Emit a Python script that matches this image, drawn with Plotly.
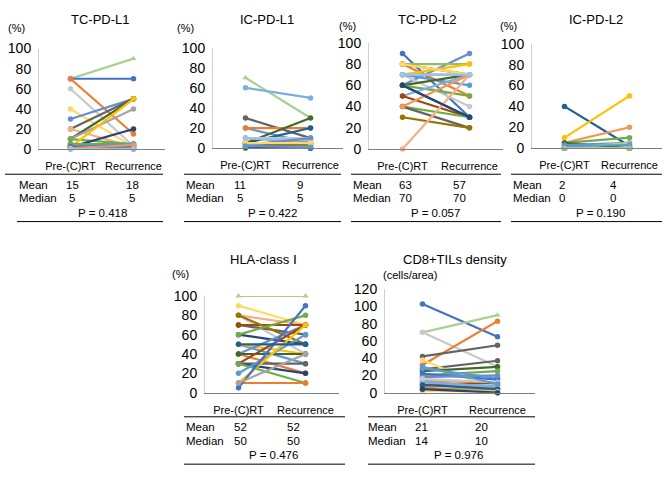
import plotly.graph_objects as go

W, H = 669, 477

categories = ["Pre-(C)RT", "Recurrence"]

# ---- data ----
tc_pdl1_pre = [70, 70, 70, 60, 40, 30, 20, 20, 10, 10, 10, 2, 5, 3, 0, 2, 1, 2, 0, 5, 3, 2, 1, 0]
tc_pdl1_rec = [90, 70, 15, 3, 2, 50, 50, 2, 50, 40, 5, 20, 0, 3, 5, 50, 1, 0, 2, 5, 5, 3, 4, 0]

ic_pdl1_pre = [70, 60, 30, 20, 20, 5, 5, 10, 10, 5, 0, 3, 2, 5, 10, 0, 3, 5, 1, 2]
ic_pdl1_rec = [30, 50, 10, 5, 20, 20, 30, 10, 5, 0, 5, 5, 2, 3, 8, 2, 10, 5, 0, 1]

tc_pdl2_pre = [90, 60, 80, 80, 80, 70, 70, 70, 60, 60, 60, 50, 50, 40, 40, 30, 0, 40, 70, 60, 80, 70]
tc_pdl2_rec = [30, 90, 80, 50, 70, 80, 40, 60, 70, 30, 50, 70, 30, 30, 20, 20, 70, 70, 70, 30, 70, 70]

ic_pdl2_pre = [40, 10, 5, 5, 5, 3, 0, 0, 2, 0, 0, 0, 0, 0, 0, 0, 0, 0, 0, 0]
ic_pdl2_rec = [2, 50, 20, 10, 0, 5, 5, 0, 3, 0, 0, 0, 0, 0, 0, 0, 0, 0, 0, 0]

hla_pre = [100, 90, 80, 80, 70, 70, 80, 60, 60, 50, 50, 40, 40, 40, 30, 30, 30, 30, 20, 10, 10, 5, 10, 50]
hla_rec = [100, 70, 70, 40, 60, 70, 50, 50, 80, 30, 40, 70, 20, 40, 30, 70, 20, 10, 60, 70, 10, 90, 40, 50]

cd8_pre = [103, 70, 70, 32, 42, 27, 38, 25, 20, 28, 22, 15, 12, 10, 8, 5, 18, 14, 3, 6, 12, 16, 9, 2, 4, 30]
cd8_rec = [65, 90, 30, 83, 55, 37, 2, 30, 25, 17, 15, 10, 5, 8, 12, 3, 20, 5, 2, 0, 7, 12, 4, 1, 0, 10]

titles = ["TC-PD-L1", "IC-PD-L1", "TC-PD-L2", "IC-PD-L2", "HLA-class Ⅰ", "CD8+TILs density"]
units = ["(%)", "(%)", "(%)", "(%)", "(%)", "(cells/area)"]
mean_pre = ["15", "11", "63", "2", "52", "21"]
mean_rec = ["18", "9", "57", "4", "52", "20"]
median_pre = ["5", "5", "70", "0", "50", "14"]
median_rec = ["5", "5", "70", "0", "50", "10"]
p_values = ["P = 0.418", "P = 0.422", "P = 0.057", "P = 0.190", "P = 0.476", "P = 0.976"]
y_max = [100, 100, 100, 100, 100, 120]

# ---- styles ----
PAL = {
    "B": "#4472C4", "O": "#ED7D31", "G": "#A5A5A5", "Y": "#FFC000", "LB": "#5B9BD5",
    "GR": "#70AD47", "DB": "#264478", "BR": "#9E480E", "DG": "#636363", "DY": "#997300",
    "DLB": "#255E91", "DGR": "#43682B", "B2": "#698ED0", "O2": "#F1975A", "G2": "#C9C9C9",
    "Y2": "#FFD966", "LB2": "#7CAFDD", "GR2": "#8CC168", "LGR": "#A9D18E", "LO": "#F4B183",
    "LLB": "#9DC3E6",
}
tc_pdl1_col = ["LGR", "B", "O", "G2", "Y2", "B2", "DG", "LO", "DGR", "G", "GR", "DB", "BR",
               "LB", "LLB", "Y", "DY", "O", "LB2", "GR", "LB", "DLB", "O2", "LLB"]
ic_pdl1_col = ["LGR", "LB2", "DG", "LB", "O", "DLB", "DGR", "G2", "G", "Y", "O2", "DY",
               "B", "BR", "LLB", "GR", "B2", "Y2", "DB", "LB"]
tc_pdl2_col = ["B", "B2", "GR2", "O", "DY", "Y", "G2", "LB", "DGR", "DLB", "GR", "LB2",
               "BR", "GR", "DG", "DY", "LO", "O2", "G", "DB", "Y2", "LLB"]
ic_pdl2_col = ["DLB", "Y", "O2", "GR", "DGR", "B2", "LGR", "Y2", "LB", "G", "O", "B",
               "DG", "BR", "GR2", "LLB", "G2", "DY", "LB2", "LGR"]
hla_col = ["LGR", "Y2", "LO", "G2", "DG", "BR", "DY", "DB", "GR", "LB", "Y", "B2", "O",
           "DGR", "DG", "BR", "DB", "GR", "LB", "Y", "O", "B", "G", "DLB"]
cd8_col = ["B", "LGR", "G2", "O", "DG", "DG", "Y2", "DGR", "GR", "LB", "B", "O2", "DY",
           "LLB", "BR", "GR2", "B2", "G", "Y", "O", "LB2", "G2", "DLB", "Y2", "DB", "LB"]

panels_pre = [tc_pdl1_pre, ic_pdl1_pre, tc_pdl2_pre, ic_pdl2_pre, hla_pre, cd8_pre]
panels_rec = [tc_pdl1_rec, ic_pdl1_rec, tc_pdl2_rec, ic_pdl2_rec, hla_rec, cd8_rec]
panels_col = [tc_pdl1_col, ic_pdl1_col, tc_pdl2_col, ic_pdl2_col, hla_col, cd8_col]

# pixel geometry: (x_left, x_right, y_top, y_bottom)
geom = [(39, 165, 42, 146), (213, 343, 41, 145), (369, 503, 36, 146),
        (532, 662, 37, 145), (205, 339, 298, 398), (385, 535, 291, 398)]
title_pos = [(100, 12), (267, 12), (427, 12), (596, 12), (263, 260), (455, 260)]
unit_pos = [(16, 21), (185, 21), (347, 19), (508, 19), (180, 275), (381, 276)]
# table: (line_x0, line_x1, top_y, label_x, val1_x, val2_x, p_x, bottom_y)
tables = [(5, 163, 172, 17, 72, 132, 102, 221),
          (184, 341, 172, 184, 240, 300, 272, 221),
          (351, 501, 172, 351, 405, 460, 435, 221),
          (511, 662, 172, 511, 562, 613, 600, 221),
          (184, 345, 423, 184, 240, 293, 273, 472),
          (368, 535, 423, 366, 421, 481, 458, 472)]

FONT = "Liberation Sans, Arial, sans-serif"


def fx(px):
    return px / W


def fy(py):
    return 1 - py / H


fig = go.Figure()
layout = dict(width=W, height=H, margin=dict(l=0, r=0, t=0, b=0),
              paper_bgcolor="white", plot_bgcolor="white", showlegend=False,
              font=dict(family=FONT, color="black"))
annotations = []
shapes = []

for k in range(6):
    ax = "" if k == 0 else str(k + 1)
    x0, x1, yt, yb = geom[k]
    layout["xaxis" + ax] = dict(domain=[fx(x0), fx(x1)], anchor="y" + ax, type="linear",
                                range=[-0.5, 1.5], tickvals=[0, 1], ticktext=categories,
                                showgrid=False, zeroline=False,
                                showline=True, linecolor="#7F7F7F", linewidth=1.3,
                                ticks="", tickfont=dict(size=11, family=FONT),
                                ticklabelstandoff=7, fixedrange=True)
    layout["yaxis" + ax] = dict(domain=[fy(yb), fy(yt)], anchor="x" + ax,
                                range=[0, y_max[k]], dtick=20, showgrid=False,
                                zeroline=False, showline=True, linecolor="#D0D0D0",
                                linewidth=1, ticks="", tickfont=dict(size=14, family=FONT),
                                ticklabelstandoff=4, fixedrange=True)
    for pre, rec, c in zip(panels_pre[k], panels_rec[k], panels_col[k]):
        sym = "triangle-up" if c == "LGR" else "circle"
        fig.add_trace(go.Scatter(x=[0, 1], y=[pre, rec], mode="lines+markers",
                                 xaxis="x" + ax, yaxis="y" + ax, cliponaxis=False,
                                 line=dict(color=PAL[c], width=2.2),
                                 marker=dict(color=PAL[c], size=5.5, symbol=sym),
                                 hoverinfo="skip"))
    tx, ty = title_pos[k]
    annotations.append(dict(text=titles[k], x=fx(tx), y=fy(ty), xref="paper", yref="paper",
                            xanchor="center", yanchor="middle", showarrow=False,
                            font=dict(size=13, family=FONT)))
    ux, uy = unit_pos[k]
    annotations.append(dict(text=units[k], x=fx(ux), y=fy(uy), xref="paper", yref="paper",
                            xanchor="left" if k == 5 else "center", yanchor="middle",
                            showarrow=False, font=dict(size=11, family=FONT)))
    lx0, lx1, ty0, lab_x, v1, v2, pxp, by = tables[k]
    shapes.append(dict(type="line", xref="paper", yref="paper", x0=fx(lx0), x1=fx(lx1),
                       y0=fy(ty0), y1=fy(ty0), line=dict(color="black", width=1)))
    shapes.append(dict(type="line", xref="paper", yref="paper", x0=fx(lx0 + (12 if k == 0 else 0)),
                       x1=fx(lx1), y0=fy(by), y1=fy(by), line=dict(color="black", width=1)))
    rows = [("Mean", mean_pre[k], mean_rec[k], ty0 + 11), ("Median", median_pre[k], median_rec[k], ty0 + 25)]
    for lab, a, b, ry in rows:
        annotations.append(dict(text=lab, x=fx(lab_x), y=fy(ry), xref="paper", yref="paper",
                                xanchor="left", yanchor="middle", showarrow=False,
                                font=dict(size=11.5, family=FONT)))
        for val, vx in ((a, v1), (b, v2)):
            annotations.append(dict(text=val, x=fx(vx), y=fy(ry), xref="paper", yref="paper",
                                    xanchor="center", yanchor="middle", showarrow=False,
                                    font=dict(size=11.5, family=FONT)))
    annotations.append(dict(text=p_values[k], x=fx(pxp), y=fy(ty0 + 40), xref="paper",
                            yref="paper", xanchor="center", yanchor="middle", showarrow=False,
                            font=dict(size=11.5, family=FONT)))

layout["annotations"] = annotations
layout["shapes"] = shapes
fig.update_layout(**layout)
fig.write_html("out.html", config={"displayModeBar": False},
               post_script="document.body.style.margin='0';document.body.style.overflow='hidden';")
